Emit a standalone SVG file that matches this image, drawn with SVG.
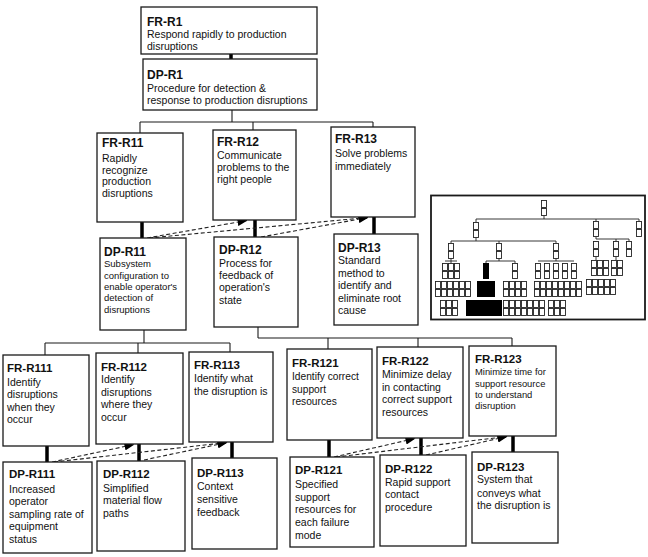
<svg xmlns="http://www.w3.org/2000/svg" width="648" height="557" viewBox="0 0 648 557">
<style>
.box{fill:#fff;stroke:#1a1a1a;stroke-width:1.3}
.t{font-family:"Liberation Sans",Arial,sans-serif;font-weight:bold;font-size:12px;fill:#111}
.t3{font-family:"Liberation Sans",Arial,sans-serif;font-weight:bold;font-size:11.5px;fill:#111}
.b{font-family:"Liberation Sans",Arial,sans-serif;font-size:10.5px;fill:#111}
.s{font-family:"Liberation Sans",Arial,sans-serif;font-size:9.5px;fill:#111}
.ln{stroke:#1a1a1a;stroke-width:1.1;fill:none}
.thick{stroke:#000;stroke-width:3.5;fill:none}
.dash{stroke:#222;stroke-width:1.1;stroke-dasharray:4 2.5;fill:none;marker-end:url(#ah)}
.mt{stroke:#222;stroke-width:0.9;fill:none}
</style>
<defs>
<marker id="ah" markerUnits="userSpaceOnUse" markerWidth="10" markerHeight="8" refX="9.5" refY="4" orient="auto"><path d="M0,0 L10,4 L0,8 z" fill="#000"/></marker>
<pattern id="cell" patternUnits="userSpaceOnUse" width="6" height="8"><rect x="0.5" y="0.5" width="5" height="7" fill="#fff" stroke="#222" stroke-width="0.9"/></pattern>
</defs>

<g id="connectors">
<line class="thick" x1="231" y1="54" x2="231" y2="59"/>
<polyline class="ln" points="232,110 232,122"/>
<line class="ln" x1="140" y1="122" x2="373" y2="122"/>
<line class="ln" x1="140" y1="122" x2="140" y2="133"/>
<line class="ln" x1="253" y1="122" x2="253" y2="130"/>
<line class="ln" x1="373" y1="122" x2="373" y2="127"/>
<line class="thick" x1="142" y1="222" x2="142" y2="238"/>
<line class="thick" x1="255" y1="220" x2="255" y2="237"/>
<line class="thick" x1="374" y1="217" x2="374" y2="234"/>
<path class="dash" d="M147,238 L247,220.5"/>
<path class="dash" d="M149,238 L368,217.5"/>
<path class="dash" d="M261,237 L368,217.5"/>
<line class="ln" x1="144" y1="330" x2="144" y2="343"/>
<line class="ln" x1="45" y1="343" x2="230" y2="343"/>
<line class="ln" x1="45" y1="343" x2="45" y2="355"/>
<line class="ln" x1="138" y1="343" x2="138" y2="353"/>
<line class="ln" x1="230" y1="343" x2="230" y2="352"/>
<line class="ln" x1="258" y1="327" x2="258" y2="338"/>
<line class="ln" x1="258" y1="338" x2="512" y2="338"/>
<line class="ln" x1="328" y1="338" x2="328" y2="349"/>
<line class="ln" x1="418" y1="338" x2="418" y2="347"/>
<line class="ln" x1="512" y1="338" x2="512" y2="346"/>
<line class="thick" x1="47" y1="446" x2="47" y2="462"/>
<line class="thick" x1="139" y1="444" x2="139" y2="461"/>
<line class="thick" x1="232" y1="442" x2="232" y2="458"/>
<line class="thick" x1="329" y1="440" x2="329" y2="457"/>
<line class="thick" x1="421" y1="438" x2="421" y2="455"/>
<line class="thick" x1="513" y1="436" x2="513" y2="452"/>
<path class="dash" d="M52,462 L134,444.5"/>
<path class="dash" d="M54,462 L227,442.5"/>
<path class="dash" d="M144,460 L227,442.5"/>
<path class="dash" d="M334,457 L415,438.5"/>
<path class="dash" d="M336,457 L507,436.5"/>
<path class="dash" d="M426,455 L507,436.5"/>
</g>

<g id="FR-R1"><rect class="box" x="141" y="7" width="176" height="47"/>
<text class="t" x="147" y="26">FR-R1</text>
<text class="b"><tspan x="147" y="37.5">Respond rapidly to production</tspan><tspan x="147" y="50">disruptions</tspan></text></g>
<g id="DP-R1"><rect class="box" x="143" y="59" width="174" height="51"/>
<text class="t" x="147" y="79">DP-R1</text>
<text class="b"><tspan x="147" y="91.5">Procedure for detection &amp;</tspan><tspan x="147" y="103.5">response to production disruptions</tspan></text></g>

<g id="FR-R11"><rect class="box" x="97" y="133" width="86" height="89"/>
<text class="t" x="102" y="147">FR-R11</text>
<text class="b"><tspan x="102" y="162">Rapidly</tspan><tspan x="102" y="173.7">recognize</tspan><tspan x="102" y="185.4">production</tspan><tspan x="102" y="197">disruptions</tspan></text></g>
<g id="FR-R12"><rect class="box" x="213" y="130" width="83" height="90"/>
<text class="t" x="217" y="146">FR-R12</text>
<text class="b"><tspan x="217" y="159">Communicate</tspan><tspan x="217" y="171">problems to the</tspan><tspan x="217" y="182.5">right people</tspan></text></g>
<g id="FR-R13"><rect class="box" x="331" y="127" width="84" height="90"/>
<text class="t" x="335" y="143">FR-R13</text>
<text class="b"><tspan x="335" y="157">Solve problems</tspan><tspan x="335" y="169.5">immediately</tspan></text></g>

<g id="DP-R11"><rect class="box" x="100" y="238" width="86" height="92"/>
<text class="t" x="104" y="256">DP-R11</text>
<text class="s"><tspan x="104" y="267">Subsystem</tspan><tspan x="104" y="278.5">configuration to</tspan><tspan x="104" y="290">enable operator's</tspan><tspan x="104" y="301">detection of</tspan><tspan x="104" y="312.5">disruptions</tspan></text></g>
<g id="DP-R12"><rect class="box" x="214" y="237" width="84" height="90"/>
<text class="t" x="219" y="254">DP-R12</text>
<text class="b"><tspan x="219" y="266.5">Process for</tspan><tspan x="219" y="279">feedback of</tspan><tspan x="219" y="291">operation's</tspan><tspan x="219" y="303.5">state</tspan></text></g>
<g id="DP-R13"><rect class="box" x="334" y="234" width="84" height="91"/>
<text class="t" x="338" y="251.5">DP-R13</text>
<text class="b"><tspan x="338" y="264">Standard</tspan><tspan x="338" y="276.5">method to</tspan><tspan x="338" y="289">identify and</tspan><tspan x="338" y="301.5">eliminate root</tspan><tspan x="338" y="314">cause</tspan></text></g>

<g id="FR-R111"><rect class="box" x="3" y="355" width="86" height="91"/>
<text class="t3" x="7" y="372">FR-R111</text>
<text class="b"><tspan x="7" y="386">Identify</tspan><tspan x="7" y="398">disruptions</tspan><tspan x="7" y="410.5">when they</tspan><tspan x="7" y="423">occur</tspan></text></g>
<g id="FR-R112"><rect class="box" x="96" y="353" width="87" height="91"/>
<text class="t3" x="101" y="370.5">FR-R112</text>
<text class="b"><tspan x="101" y="383">Identify</tspan><tspan x="101" y="396">disruptions</tspan><tspan x="101" y="408">where they</tspan><tspan x="101" y="421">occur</tspan></text></g>
<g id="FR-R113"><rect class="box" x="189" y="352" width="84" height="90"/>
<text class="t3" x="194" y="369">FR-R113</text>
<text class="b"><tspan x="194" y="382">Identify what</tspan><tspan x="194" y="395">the disruption is</tspan></text></g>
<g id="FR-R121"><rect class="box" x="287" y="349" width="85" height="91"/>
<text class="t3" x="292" y="366.5">FR-R121</text>
<text class="b" style="font-size:10.2px"><tspan x="292" y="380">Identify correct</tspan><tspan x="292" y="393">support</tspan><tspan x="292" y="405">resources</tspan></text></g>
<g id="FR-R122"><rect class="box" x="377" y="347" width="86" height="91"/>
<text class="t3" x="382" y="365">FR-R122</text>
<text class="b"><tspan x="382" y="378">Minimize delay</tspan><tspan x="382" y="390.5">in contacting</tspan><tspan x="382" y="403">correct support</tspan><tspan x="382" y="416">resources</tspan></text></g>
<g id="FR-R123"><rect class="box" x="469" y="346" width="87" height="90"/>
<text class="t3" x="475" y="362.5">FR-R123</text>
<text class="s" style="font-size:9.4px"><tspan x="475" y="375">Minimize time for</tspan><tspan x="475" y="386.5">support resource</tspan><tspan x="475" y="397.5">to understand</tspan><tspan x="475" y="409">disruption</tspan></text></g>

<g id="DP-R111"><rect class="box" x="3" y="462" width="89" height="91"/>
<text class="t3" x="9" y="478">DP-R111</text>
<text class="b"><tspan x="9" y="493">Increased</tspan><tspan x="9" y="505">operator</tspan><tspan x="9" y="518">sampling rate of</tspan><tspan x="9" y="530">equipment</tspan><tspan x="9" y="543">status</tspan></text></g>
<g id="DP-R112"><rect class="box" x="97" y="461" width="88" height="90"/>
<text class="t3" x="103" y="478">DP-R112</text>
<text class="b"><tspan x="103" y="491.5">Simplified</tspan><tspan x="103" y="504">material flow</tspan><tspan x="103" y="517">paths</tspan></text></g>
<g id="DP-R113"><rect class="box" x="192" y="458" width="85" height="91"/>
<text class="t3" x="197" y="476.5">DP-R113</text>
<text class="b"><tspan x="197" y="490">Context</tspan><tspan x="197" y="503">sensitive</tspan><tspan x="197" y="516">feedback</tspan></text></g>
<g id="DP-R121"><rect class="box" x="290" y="457" width="84" height="90"/>
<text class="t3" x="295" y="474">DP-R121</text>
<text class="b"><tspan x="295" y="488">Specified</tspan><tspan x="295" y="501">support</tspan><tspan x="295" y="513">resources for</tspan><tspan x="295" y="526">each failure</tspan><tspan x="295" y="538.5">mode</tspan></text></g>
<g id="DP-R122"><rect class="box" x="380" y="455" width="86" height="91"/>
<text class="t3" x="385" y="472.5">DP-R122</text>
<text class="b"><tspan x="385" y="485.5">Rapid support</tspan><tspan x="385" y="498">contact</tspan><tspan x="385" y="511">procedure</tspan></text></g>
<g id="DP-R123"><rect class="box" x="472" y="452" width="86" height="91"/>
<text class="t3" x="477" y="470.5">DP-R123</text>
<text class="b"><tspan x="477" y="483">System that</tspan><tspan x="477" y="496.5">conveys what</tspan><tspan x="477" y="509">the disruption is</tspan></text></g>

<g id="mini-tree">
<rect x="431" y="195.5" width="214" height="124" fill="#fff" stroke="#1a1a1a" stroke-width="1.8"/>
<g class="mt">
<line x1="544" y1="216" x2="544" y2="219"/>
<line x1="476" y1="219" x2="639" y2="219"/>
<line x1="476" y1="219" x2="476" y2="222"/>
<line x1="596" y1="219" x2="596" y2="221"/>
<line x1="639" y1="219" x2="639" y2="221"/>
<line x1="476" y1="238" x2="476" y2="241"/>
<line x1="451" y1="241" x2="556" y2="241"/>
<line x1="451" y1="241" x2="451" y2="243"/>
<line x1="499" y1="241" x2="499" y2="243"/>
<line x1="556" y1="241" x2="556" y2="243"/>
<line x1="596" y1="237" x2="596" y2="239"/>
<line x1="596" y1="239" x2="629" y2="239"/>
<line x1="616" y1="239" x2="616" y2="241"/>
<line x1="629" y1="239" x2="629" y2="241"/>
<line x1="451" y1="259" x2="451" y2="263"/>
<line x1="445" y1="261" x2="457" y2="261"/>
<line x1="499" y1="259" x2="499" y2="261"/>
<line x1="486" y1="261" x2="515" y2="261"/>
<line x1="486" y1="261" x2="486" y2="263"/>
<line x1="515" y1="261" x2="515" y2="263"/>
<line x1="556" y1="259" x2="556" y2="261"/>
<line x1="538" y1="261" x2="574" y2="261"/>
<line x1="596" y1="257" x2="596" y2="260"/>
<line x1="616" y1="257" x2="616" y2="260"/>
</g>
<rect transform="translate(541,200)" width="6" height="16" fill="url(#cell)"/>
<rect transform="translate(473,222)" width="6" height="16" fill="url(#cell)"/>
<rect transform="translate(593,221)" width="6" height="16" fill="url(#cell)"/>
<rect transform="translate(636,221)" width="6" height="16" fill="url(#cell)"/>
<rect transform="translate(448,243)" width="6" height="16" fill="url(#cell)"/>
<rect transform="translate(496,243)" width="6" height="16" fill="url(#cell)"/>
<rect transform="translate(553,243)" width="6" height="16" fill="url(#cell)"/>
<rect transform="translate(593,241)" width="6" height="16" fill="url(#cell)"/>
<rect transform="translate(613,241)" width="6" height="16" fill="url(#cell)"/>
<rect transform="translate(626,241)" width="6" height="16" fill="url(#cell)"/>
<rect transform="translate(442,263)" width="18" height="16" fill="url(#cell)"/>
<rect transform="translate(435,281)" width="36" height="16" fill="url(#cell)"/>
<rect transform="translate(440,300)" width="18" height="16" fill="url(#cell)"/>
<rect x="483" y="263" width="6" height="16" fill="#000"/>
<rect x="477" y="281" width="18" height="16" fill="#000"/>
<rect x="466" y="300" width="36" height="16" fill="#000"/>
<rect transform="translate(512,263)" width="6" height="16" fill="url(#cell)"/>
<rect transform="translate(503,281)" width="24" height="16" fill="url(#cell)"/>
<rect transform="translate(503,300)" width="42" height="16" fill="url(#cell)"/>
<rect transform="translate(535,263)" width="6" height="16" fill="url(#cell)"/>
<rect transform="translate(544,263)" width="6" height="16" fill="url(#cell)"/>
<rect transform="translate(553,263)" width="6" height="16" fill="url(#cell)"/>
<rect transform="translate(562,263)" width="6" height="16" fill="url(#cell)"/>
<rect transform="translate(571,263)" width="6" height="16" fill="url(#cell)"/>
<rect transform="translate(534,281)" width="48" height="16" fill="url(#cell)"/>
<rect transform="translate(548,300)" width="18" height="16" fill="url(#cell)"/>
<rect transform="translate(591,260)" width="18" height="16" fill="url(#cell)"/>
<rect transform="translate(611,260)" width="12" height="16" fill="url(#cell)"/>
<rect transform="translate(586,279)" width="30" height="16" fill="url(#cell)"/>
</g>
</svg>
